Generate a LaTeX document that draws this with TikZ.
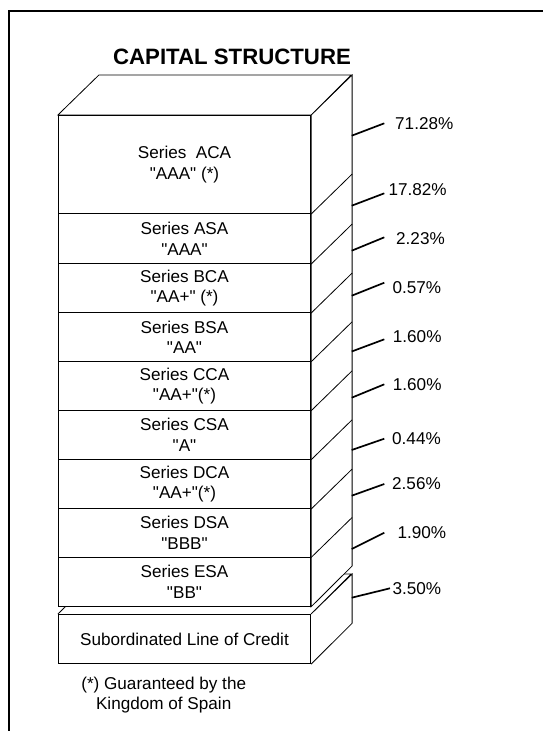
\documentclass[tikz,border=0pt]{standalone}
\usepackage{fontspec}
\setmainfont{Liberation Sans}[Ligatures=TeXOff]
\begin{document}
\begin{tikzpicture}[x=1bp,y=-1bp,
  edge/.style={line width=0.8bp, line join=miter},
  face/.style={edge, fill=white},
  layer/.style={draw, line width=0.8bp, fill=white, minimum width=252.4bp, inner sep=0pt, align=center, anchor=north, font=\fontsize{17.2}{20.5}\selectfont},
  pct/.style={anchor=west, inner sep=0pt, font=\fontsize{17.2}{20.5}\selectfont},
  lead/.style={line width=1.7bp},
  frame/.style={line width=2bp}]
\useasboundingbox (0,0) rectangle (543,731);
% outer frame
\coordinate (f1) at (8.5,731);
\coordinate (f2) at (8.5,11);
\coordinate (f3) at (543,11);
\draw[frame] (f1) -- (f2) -- (f3);
% title
\node[font=\bfseries\fontsize{22.3}{26}\selectfont, inner sep=0pt] (title) at (232,57) {CAPITAL STRUCTURE};
% subordinated block
\node[layer, minimum height=49.3bp] (sub) at (184.5,614) {Subordinated Line of Credit};
\draw[edge] (sub.north west) -- ++(41,-40) -- ++(252.4,0) -- (sub.north east);
\draw[face] (sub.north east) -- ++(41,-40) -- ++(0,49.3) -- (sub.south east);
% main block layers
\node[layer, minimum height=98.3bp] (aca) at (184.5,115) {Series\ \ ACA\\"AAA" (*)};
\node[layer, minimum height=50bp] (asa) at (184.5,213.3) {Series ASA\\"AAA"};
\node[layer, minimum height=49bp] (bca) at (184.5,263.3) {Series BCA\\"AA+" (*)};
\node[layer, minimum height=48.7bp] (bsa) at (184.5,312.3) {Series BSA\\"AA"};
\node[layer, minimum height=49bp] (cca) at (184.5,361) {Series CCA\\"AA+"(*)};
\node[layer, minimum height=49bp] (csa) at (184.5,410) {Series CSA\\"A"};
\node[layer, minimum height=49.3bp] (dca) at (184.5,459) {Series DCA\\"AA+"(*)};
\node[layer, minimum height=48.4bp] (dsa) at (184.5,508.3) {Series DSA\\"BBB"};
\node[layer, minimum height=49.3bp] (esa) at (184.5,556.7) {Series ESA\\"BB"};
% right face and top face
\filldraw[face] (aca.north east) -- ++(41,-40) -- ++(0,491) -- (esa.south east) -- cycle;
\filldraw[face] (aca.north west) -- ++(41,-40) -- ++(252.4,0) -- (aca.north east) -- cycle;
\foreach \n in {aca,asa,bca,bsa,cca,csa,dca,dsa}
  \draw[edge] (\n.south east) -- ++(41,-40);
% percentages
\foreach \i/\ya/\yb/\xe/\xl/\yl/\t in {
  1/135.7/123.3/384.3/395/124/71.28\%,
  2/205.7/193.3/384.3/388.3/190/17.82\%,
  3/250.7/237.3/384.3/396/238.3/2.23\%,
  4/295.7/282.7/384.3/392.3/287.7/0.57\%,
  5/351.5/339.3/384.3/392.7/336.7/1.60\%,
  6/397.7/384.3/384.3/392.7/385/1.60\%,
  7/450/438.7/384.3/392/438.3/0.44\%,
  8/495.7/484/384.3/392/483.3/2.56\%,
  9/549/532.7/384.3/397.3/532.7/1.90\%,
  10/597.7/588.3/390/392.3/588.3/3.50\%}{
  \coordinate (p\i) at (351.7,\ya);
  \coordinate (q\i) at (\xe,\yb);
  \draw[lead] (p\i) -- (q\i);
  \node[pct] (l\i) at (\xl,\yl) {\t};
}
% footnote
\node[align=center, inner sep=0pt, font=\fontsize{17.2}{20}\selectfont] (note) at (163.7,695) {(*) Guaranteed by the\\Kingdom of Spain};
\end{tikzpicture}
\end{document}
